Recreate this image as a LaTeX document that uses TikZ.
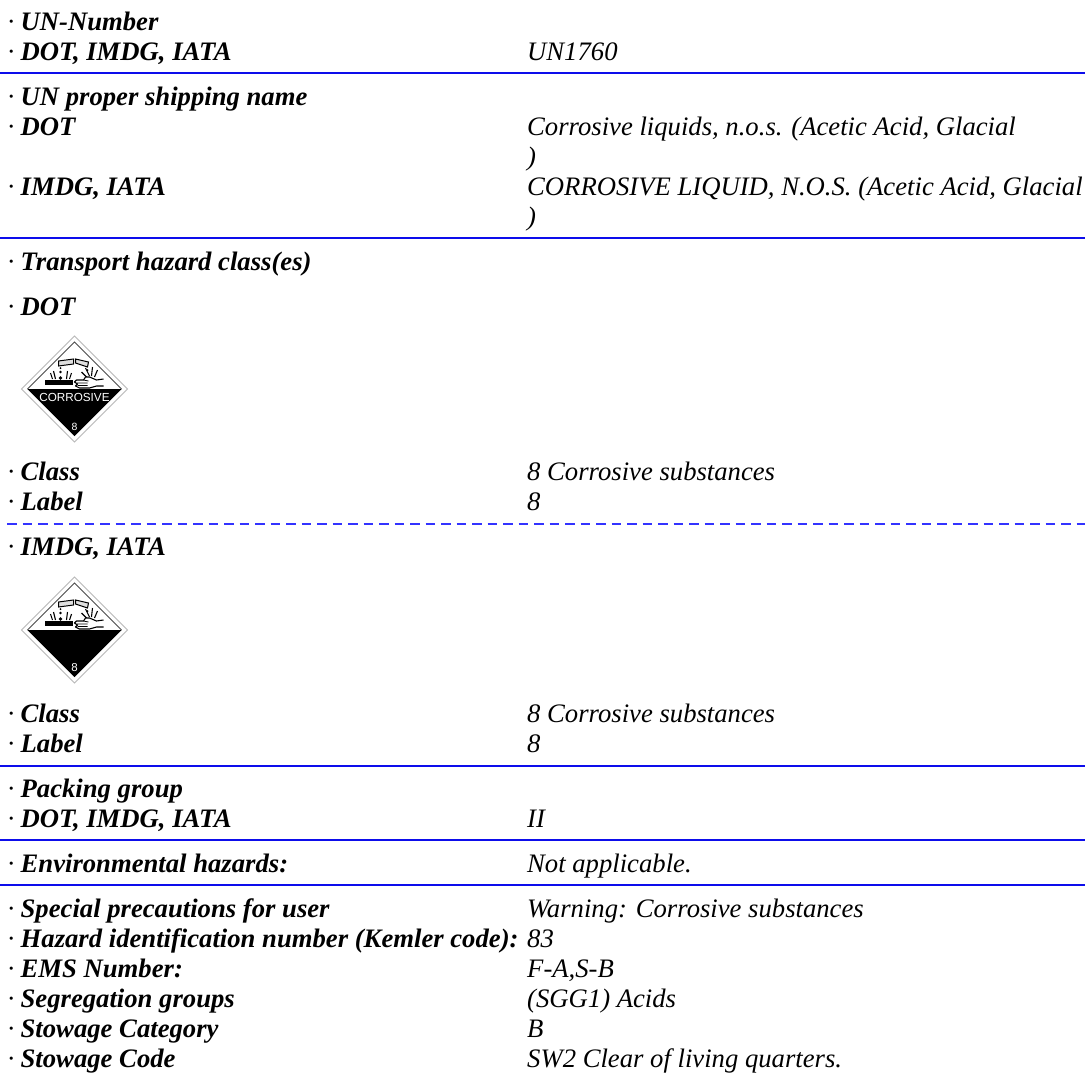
\documentclass[tikz,border=0pt]{standalone}
\usepackage{fontspec}
\setmainfont{Liberation Serif}
\newfontfamily\labelsans{Liberation Sans}
\definecolor{rulblue}{rgb}{0.05,0.05,0.92}
\definecolor{dashblue}{rgb}{0.2,0.2,1}
\tikzset{
 lab/.style={anchor=base west,inner sep=0pt,font=\fontsize{26.67}{30}\selectfont\bfseries\itshape},
 val/.style={anchor=base west,inner sep=0pt,font=\fontsize{26.67}{30}\selectfont\itshape},
 rul/.style={draw=rulblue,line width=1.7pt},
 dashrul/.style={draw=dashblue,line width=1.7pt,dash pattern=on 9.5pt off 6pt},
}
\newcommand{\dotm}{{\mdseries ·\kern 6.3pt}}
\newcommand{\placard}[3]{%
 \begin{scope}[shift={(#1,#2)}]
 \draw[gray!55,line width=.9pt,fill=white] (0,-53)--(53,0)--(0,53)--(-53,0)--cycle;
 \draw[gray!60!black,line width=.9pt] (-47,0)--(0,-47)--(47,0);
 \fill[black] (-47,0)--(47,0)--(0,47)--cycle;
 \fill[black] (-30,-9) rectangle (-2,-4);
 \draw[black,line width=1pt,fill=gray!25] (-16,-28)--(-16,-23)--(-1,-25)--(-1,-30)--cycle;
 \draw[black,line width=1pt,fill=gray!25] (1,-30)--(1,-26)--(13,-22)--(14,-27)--cycle;
 \draw[black,line width=1.1pt] (-22,-10)--(-24,-16) (-19,-10)--(-21,-18) (-8,-10)--(-7,-18) (-5,-10)--(-3,-16);
 \fill[black] (-14,-11) circle (1.8);
 \fill[black] (-14,-17) circle (1.3);
 \fill[black] (-14,-21) circle (1);
 \draw[black,line width=1.1pt] (7,-17)--(12,-12) (11,-21)--(15,-13) (18,-22)--(17,-13) (23,-19)--(20,-12);
 \fill[black] (13,-19) circle (1);
 \draw[black,line width=1.1pt,fill=white,line join=round] (29,-10)--(22,-9)--(15,-12)--(11,-12)--(9,-9)--(2,-9)--(0,-7)--(3,-5)--(1,-3)--(5,-1)--(15,-1)--(22,-3)--(29,-3);
 \draw[black,line width=.8pt] (2,-6)--(13,-6) (3,-3.5)--(13,-3.5) (9,-9)--(14,-8);
 #3
 \end{scope}}
\begin{document}
\begin{tikzpicture}[x=1pt,y=-1pt]
\useasboundingbox (0,0) rectangle (1085,1072);
\fill[white] (0,0) rectangle (1085,1072);
\def\vx{527}
\def\lx{7.5}
\node[lab] (a1) at (\lx,30) {\dotm UN-Number};
\node[lab] (a2) at (\lx,60) {\dotm DOT, IMDG, IATA};
\node[val] (a3) at (\vx,60) {UN1760};
\draw[rul] (0,73)--(1085,73);
\node[lab] (b1) at (\lx,105) {\dotm UN proper shipping name};
\node[lab] (b2) at (\lx,135) {\dotm DOT};
\node[val] (b3) at (\vx,135) {Corrosive liquids, n.o.s. (Acetic Acid, Glacial};
\node[val] (b4) at (\vx,165) {)};
\node[lab] (b5) at (\lx,195) {\dotm IMDG, IATA};
\node[val] (b6) at (\vx,195) {CORROSIVE LIQUID, N.O.S. (Acetic Acid, Glacial};
\node[val] (b7) at (\vx,225) {)};
\draw[rul] (0,238)--(1085,238);
\node[lab] (c1) at (\lx,270) {\dotm Transport hazard class(es)};
\node[lab] (c2) at (\lx,315) {\dotm DOT};
\placard{74.5}{389}{%
 \node[inner sep=0pt,text=white,font=\labelsans\fontsize{11.7}{12}\selectfont] at (0,8.5) {CORROSIVE};
 \node[inner sep=0pt,text=white,font=\labelsans\fontsize{10.5}{11}\selectfont] at (0,38) {8};}
\node[lab] (c3) at (\lx,480) {\dotm Class};
\node[val] (c4) at (\vx,480) {8 Corrosive substances};
\node[lab] (c5) at (\lx,510) {\dotm Label};
\node[val] (c6) at (\vx,510) {8};
\draw[dashrul] (7,524)--(1085,524);
\node[lab] (d1) at (\lx,555) {\dotm IMDG, IATA};
\placard{74.5}{630}{%
 \node[inner sep=0pt,text=white,font=\labelsans\fontsize{11.5}{12}\selectfont] at (0,38) {8};}
\node[lab] (d2) at (\lx,722) {\dotm Class};
\node[val] (d3) at (\vx,722) {8 Corrosive substances};
\node[lab] (d4) at (\lx,752) {\dotm Label};
\node[val] (d5) at (\vx,752) {8};
\draw[rul] (0,766)--(1085,766);
\node[lab] (e1) at (\lx,797) {\dotm Packing group};
\node[lab] (e2) at (\lx,827) {\dotm DOT, IMDG, IATA};
\node[val] (e3) at (\vx,827) {II};
\draw[rul] (0,840)--(1085,840);
\node[lab] (f1) at (\lx,872) {\dotm Environmental hazards:};
\node[val] (f2) at (\vx,872) {Not applicable.};
\draw[rul] (0,885)--(1085,885);
\node[lab] (g1) at (\lx,917) {\dotm Special precautions for user};
\node[val] (g2) at (\vx,917) {Warning: Corrosive substances};
\node[lab] (g3) at (\lx,947) {\dotm Hazard identification number (Kemler code):};
\node[val] (g4) at (\vx,947) {83};
\node[lab] (g5) at (\lx,977) {\dotm EMS Number:};
\node[val] (g6) at (\vx,977) {F-A,S-B};
\node[lab] (g7) at (\lx,1007) {\dotm Segregation groups};
\node[val] (g8) at (\vx,1007) {(SGG1) Acids};
\node[lab] (g9) at (\lx,1037) {\dotm Stowage Category};
\node[val] (g10) at (\vx,1037) {B};
\node[lab] (g11) at (\lx,1067) {\dotm Stowage Code};
\node[val] (g12) at (\vx,1067) {SW2 Clear of living quarters.};
\end{tikzpicture}
\end{document}
